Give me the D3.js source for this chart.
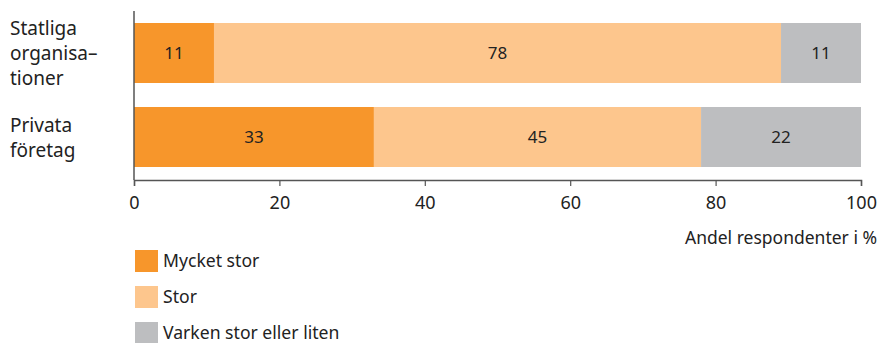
<!DOCTYPE html>
<html><head><meta charset="utf-8">
<script src="https://cdn.jsdelivr.net/npm/d3@7"></script>
<style>body{margin:0;background:#fff}svg{display:block}text{font-family:"Noto Sans",sans-serif;fill:#222}</style>
</head><body>
<svg id="c" width="881" height="343"></svg>
<script>
const categories = [["Statliga","organisa–","tioner"],["Privata","företag"]];
const seriesNames = ["Mycket stor","Stor","Varken stor eller liten"];
const mycketStor = [11,33];
const stor = [78,45];
const varken = [11,22];
const colors = ["#F7962B","#FDC68D","#BDBEC0"];
const ticks = [0,20,40,60,80,100];
const axisTitle = "Andel respondenter i %";

const svg = d3.select("#c");
const x = d3.scaleLinear().domain([0,100]).range([134,861]);
const y = d3.scaleBand().domain([0,1]).range([11,179]).paddingInner(24/84).paddingOuter(12/84);

const series = [mycketStor, stor, varken];
categories.forEach((cat,i)=>{
  let acc = 0;
  series.forEach((s,k)=>{
    const v = s[i];
    svg.append("rect").attr("x",x(acc)).attr("y",y(i)).attr("width",x(acc+v)-x(acc)).attr("height",y.bandwidth()).attr("fill",colors[k]);
    svg.append("text").attr("x",(x(acc)+x(acc+v))/2).attr("y",y(i)+y.bandwidth()/2+6)
      .attr("text-anchor","middle").attr("font-size",17).text(v);
    acc += v;
  });
  const n = cat.length;
  const cy = y(i)+y.bandwidth()/2;
  cat.forEach((line,j)=>{
    svg.append("text").attr("x",10).attr("y",cy + (j-(n-1)/2)*25 + 7).attr("font-size",19).text(line);
  });
});

const ax = svg.append("g").attr("transform","translate(0,180)")
  .call(d3.axisBottom(x).tickValues(ticks).tickSize(6).tickPadding(10).tickFormat(d3.format("d")));
ax.select(".domain").attr("stroke","#555").attr("stroke-width",1.5);
ax.selectAll(".tick line").attr("stroke","#555").attr("stroke-width",1.2);
ax.selectAll(".tick text").attr("font-size",18).attr("font-family","Noto Sans").attr("fill","#222");
svg.append("line").attr("x1",134).attr("x2",134).attr("y1",11).attr("y2",180).attr("stroke","#555").attr("stroke-width",1.5);

svg.append("text").attr("x",877).attr("y",244).attr("text-anchor","end").attr("font-size",17.5).text(axisTitle);

seriesNames.forEach((n,k)=>{
  const ly = 250 + k*36;
  svg.append("rect").attr("x",135).attr("y",ly).attr("width",23).attr("height",22).attr("fill",colors[k]);
  svg.append("text").attr("x",163).attr("y",ly+17).attr("font-size",17.6).text(n);
});
</script>
</body></html>
